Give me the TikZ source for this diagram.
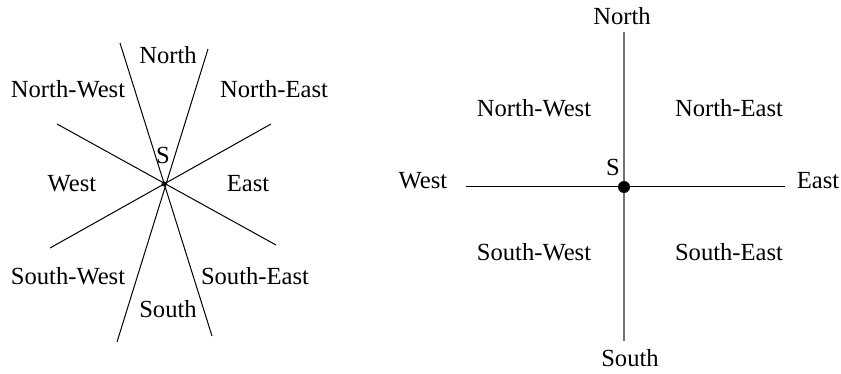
\documentclass[tikz,border=0pt]{standalone}
\usepackage{fontspec}
\setmainfont{Liberation Serif}
\begin{document}
\begin{tikzpicture}[x=0.5pt,y=-0.5pt,
  lbl/.style={inner sep=0pt,font=\fontsize{12.3}{14}\selectfont},
  ray/.style={line width=0.5pt,black},
  grayray/.style={line width=0.65pt,black!55}]
\useasboundingbox (0,0) rectangle (841,374);
% left figure
\coordinate (c1) at (164,184);
\coordinate (a1) at (120,43);  \coordinate (a2) at (212,336);
\coordinate (b1) at (208,49);  \coordinate (b2) at (117,342);
\coordinate (d1) at (57,124);  \coordinate (d2) at (276,245);
\coordinate (e1) at (271,124); \coordinate (e2) at (50,248);
\draw[ray] (a1) -- (a2);
\draw[ray] (b1) -- (b2);
\draw[ray] (d1) -- (d2);
\draw[ray] (e1) -- (e2);
\draw[line width=0.5pt] (c1) circle (2);
\node[lbl] (ln) at (168,55) {North};
\node[lbl] (lnw) at (68,89) {North-West};
\node[lbl] (lne) at (274,89) {North-East};
\node[lbl] (ls) at (163,155) {S};
\node[lbl] (lw) at (72,184) {West};
\node[lbl] (le) at (248,184) {East};
\node[lbl] (lsw) at (68,276) {South-West};
\node[lbl] (lse) at (255,276) {South-East};
\node[lbl] (lso) at (168,309) {South};
% right figure
\coordinate (c2) at (624,187);
\coordinate (vt) at (624,32);  \coordinate (vb) at (624,341);
\coordinate (hl) at (466,187); \coordinate (hr) at (785,187);
\draw[grayray] (vt) -- (vb);
\draw[ray] (hl) -- (hr);
\fill (c2) circle (6);
\node[lbl] (rn) at (622,16) {North};
\node[lbl] (rnw) at (534,108) {North-West};
\node[lbl] (rne) at (729,108) {North-East};
\node[lbl] (rs) at (613,167) {S};
\node[lbl] (rw) at (423,181) {West};
\node[lbl] (re) at (818,181) {East};
\node[lbl] (rsw) at (534,252) {South-West};
\node[lbl] (rse) at (729,252) {South-East};
\node[lbl] (rso) at (630,358) {South};
\end{tikzpicture}
\end{document}
